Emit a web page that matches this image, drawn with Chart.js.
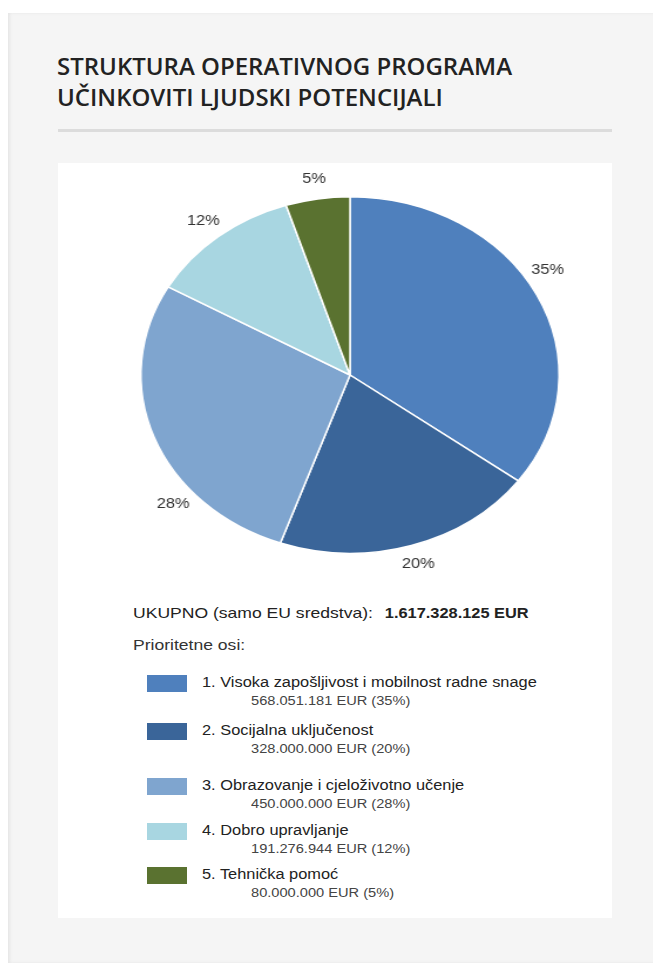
<!DOCTYPE html>
<html>
<head>
<meta charset="utf-8">
<script src="https://cdn.jsdelivr.net/npm/chart.js@4.4.1/dist/chart.umd.min.js"></script>
<style>
  html, body { margin: 0; padding: 0; background: #fff; }
  body { width: 653px; height: 967px; position: relative; overflow: hidden; font-family: "Liberation Sans", Arial, sans-serif; }
  #panel { position: absolute; left: 8px; top: 13px; width: 660px; height: 950px; background: #f5f5f5; box-shadow: inset 2px 0 3px #e6e6e6; }
  #title { position: absolute; left: 57px; top: 50px; font-family: "Open Sans", sans-serif; font-weight: 600; font-size: 24px; line-height: 31px; color: #222; }
  #rule { position: absolute; left: 58px; top: 129px; width: 554px; height: 3px; background: #dcdcdc; }
  #card { position: absolute; left: 58px; top: 163px; width: 554px; height: 755px; background: #fff; }
  #chartWrap { position: absolute; left: 137px; top: 165px; width: 426px; height: 420px; transform: scaleX(1.173); transform-origin: center center; }
  .wide { transform: scaleX(1.17); transform-origin: left center; white-space: nowrap; }
  #total { position: absolute; left: 133px; top: 604px; font-size: 15px; color: #222; }
  #total b { margin-left: 6px; font-size: 14px; }
  #osi { position: absolute; left: 133px; top: 636px; font-size: 15px; color: #333; }
  .item { position: absolute; left: 147px; }
  .box { position: absolute; left: 0; top: 0; width: 40px; height: 17px; }
  .name { position: absolute; left: 55px; top: -1px; font-size: 14px; color: #222; }
  .sub { position: absolute; left: 104px; top: 19px; font-size: 12.5px; color: #444; }
</style>
</head>
<body>
<div id="panel"></div>
<div id="title">STRUKTURA OPERATIVNOG PROGRAMA<br>UČINKOVITI LJUDSKI POTENCIJALI</div>
<div id="rule"></div>
<div id="card"></div>
<div id="chartWrap"><canvas id="pie"></canvas></div>
<div id="total" class="wide">UKUPNO (samo EU sredstva): <b>1.617.328.125 EUR</b></div>
<div id="osi" class="wide">Prioritetne osi:</div>
<div id="legend"></div>
<script>
const osi = ['1. Visoka zapošljivost i mobilnost radne snage', '2. Socijalna uključenost', '3. Obrazovanje i cjeloživotno učenje', '4. Dobro upravljanje', '5. Tehnička pomoć'];
const iznosi = [568051181, 328000000, 450000000, 191276944, 80000000];
const boje = ['#4f80bd', '#3a6599', '#7fa5cf', '#a8d6e1', '#5a7230'];

const ukupno = iznosi.reduce((a, b) => a + b, 0);
const postotci = iznosi.map(v => Math.round(v / ukupno * 100));

function formatEur(v) {
    return String(v).replace(/\B(?=(\d{3})+(?!\d))/g, '.');
}

// legenda ispod grafa
const legendTop = [675, 723, 778, 823, 867];
const legend = document.getElementById('legend');
osi.forEach((naziv, i) => {
    const el = document.createElement('div');
    el.className = 'item';
    el.style.top = legendTop[i] + 'px';
    el.innerHTML = `<div class="box" style="background:${boje[i]}"></div>` +
        `<div class="name wide">${naziv}</div>` +
        `<div class="sub wide">${formatEur(iznosi[i])} EUR (${postotci[i]}%)</div>`;
    legend.appendChild(el);
});

// postotci izvan kriški
const outsideLabels = {
    id: 'outsideLabels',
    afterDatasetsDraw(chart, args, opts) {
        const ctx = chart.ctx;
        const meta = chart.getDatasetMeta(0);
        ctx.save();
        ctx.font = '14px "Liberation Sans", Arial, sans-serif';
        ctx.fillStyle = '#333';
        ctx.textAlign = 'center';
        ctx.textBaseline = 'middle';
        meta.data.forEach((arc, i) => {
            const p = arc.getProps(['x', 'y', 'startAngle', 'endAngle', 'outerRadius'], true);
            const mid = (p.startAngle + p.endAngle) / 2 + (opts.shift[i] || 0) * Math.PI / 180;
            const r = p.outerRadius + 20;
            ctx.fillText(postotci[i] + '%', p.x + Math.cos(mid) * r, p.y + Math.sin(mid) * r);
        });
        ctx.restore();
    }
};

new Chart(document.getElementById('pie').getContext('2d'), {
    type: 'pie',
    data: {
        labels: osi,
        datasets: [{
            data: iznosi,
            backgroundColor: boje,
            borderColor: '#fff',
            borderWidth: 1.5
        }]
    },
    options: {
        responsive: true,
        maintainAspectRatio: false,
        animation: false,
        layout: { padding: 31 },
        plugins: {
            legend: { display: false },
            tooltip: { enabled: false },
            outsideLabels: { shift: [-5, 0, -20, 0, 0] }
        }
    },
    plugins: [outsideLabels]
});
</script>
</body>
</html>
